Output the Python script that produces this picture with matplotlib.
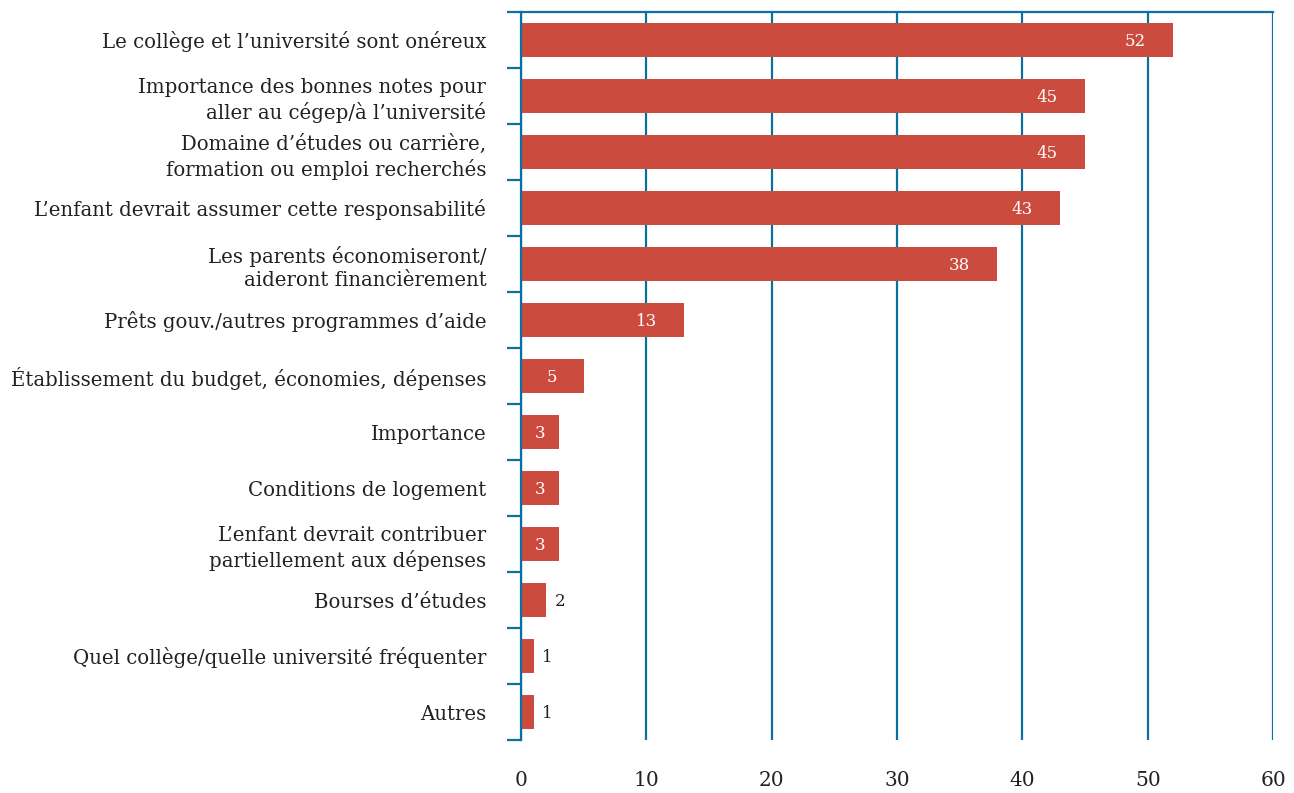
import matplotlib.pyplot as plt

categories = [
    "Le collège et l\u2019université sont onéreux",
    "Importance des bonnes notes pour\naller au cégep/à l\u2019université",
    "Domaine d\u2019études ou carrière,\nformation ou emploi recherchés",
    "L\u2019enfant devrait assumer cette responsabilité",
    "Les parents économiseront/\naideront financièrement",
    "Prêts gouv./autres programmes d\u2019aide",
    "Établissement du budget, économies, dépenses",
    "Importance",
    "Conditions de logement",
    "L\u2019enfant devrait contribuer\npartiellement aux dépenses",
    "Bourses d\u2019études",
    "Quel collège/quelle université fréquenter",
    "Autres",
]
values = [52, 45, 45, 43, 38, 13, 5, 3, 3, 3, 2, 1, 1]
xticks = [0, 10, 20, 30, 40, 50, 60]

bar_color = "#cc4b3f"
line_color = "#0a6fa3"
text_color = "#222222"

plt.rcParams["font.family"] = "DejaVu Serif"

fig = plt.figure(figsize=(12.94, 7.93), dpi=100)
ax = fig.add_axes([521 / 1294, 1 - 740 / 793, (1273 - 521) / 1294, 728 / 793])

pos = list(range(len(values)))
ax.barh(pos, values, height=0.62, color=bar_color, zorder=3)
ax.set_ylim(len(values) - 0.5, -0.5)
ax.set_xlim(0, 60)

# value labels: inside the bar (white) when there is room, else just outside
for i, v in enumerate(values):
    if v >= 3:
        ax.text(max(v - 3, v / 2), i, str(v), ha="center", va="center_baseline",
                color="white", fontsize=12, zorder=4)
    else:
        ax.text(v + 0.7, i, str(v), ha="left", va="center_baseline",
                color=text_color, fontsize=12, zorder=4)

ax.set_xticks(xticks)
ax.set_xticklabels([str(t) for t in xticks], fontsize=14.5, color=text_color)
ax.tick_params(axis="x", length=0, pad=22)
ax.xaxis.grid(True, color=line_color, linewidth=1.6, zorder=1)

# major ticks between categories, labels on minor ticks
ax.set_yticks([p - 0.5 for p in pos] + [len(values) - 0.5])
ax.set_yticklabels([])
ax.set_yticks(pos, minor=True)
ax.set_yticklabels(categories, minor=True, fontsize=14.2, color=text_color,
                   ha="right", linespacing=1.3)
ax.tick_params(axis="y", which="major", length=10, width=1.6, color=line_color)
ax.tick_params(axis="y", which="minor", length=0, pad=25)

for s in ["right", "bottom"]:
    ax.spines[s].set_visible(False)
for s in ["left", "top"]:
    ax.spines[s].set_color(line_color)
    ax.spines[s].set_linewidth(1.6)
    ax.spines[s].set_zorder(5)

fig.savefig("out.png", dpi=100)
